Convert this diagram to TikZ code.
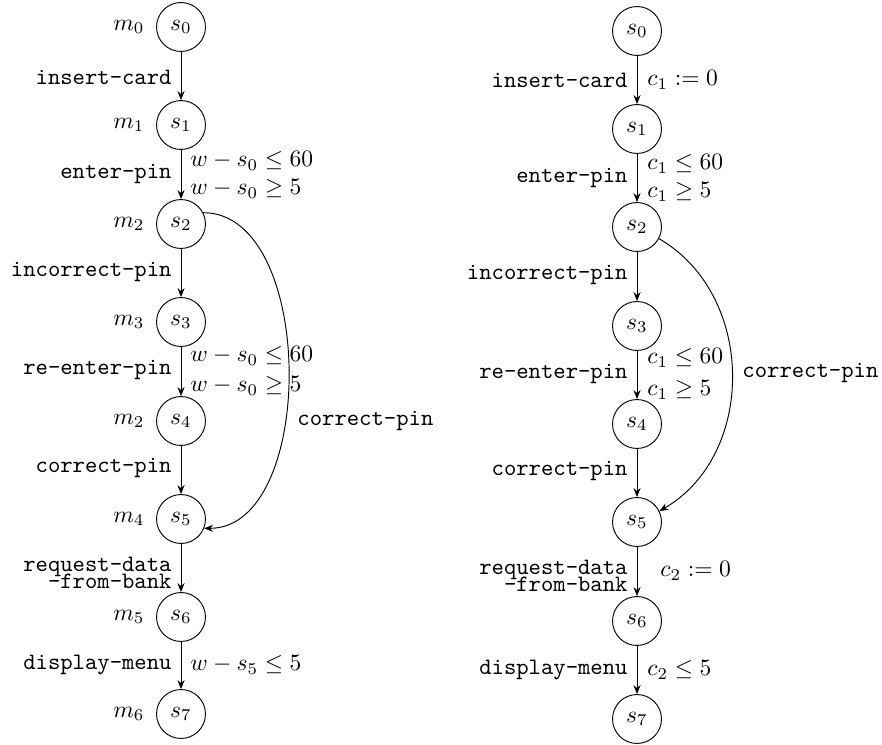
\documentclass[tikz,border=0pt]{standalone}
\usetikzlibrary{arrows.meta}
\begin{document}
\begin{tikzpicture}[x=0.425pt,y=-0.425pt,
  state/.style={draw,circle,minimum size=20.8pt,inner sep=0pt},
  mlab/.style={anchor=east,inner sep=0pt},
  act/.style={anchor=east,inner sep=0pt,font=\ttfamily},
  actb/.style={anchor=base east,inner sep=0pt,font=\ttfamily},
  grd/.style={anchor=west,inner sep=0pt},
  tr/.style={-{Stealth[length=3.8pt,width=3pt]}}]
\useasboundingbox (0,0) rectangle (882,745);
% ---------- left automaton ----------
\foreach \i/\y in {0/27,1/125,2/224,3/322,4/421,5/519,6/617,7/714}
  \node[state] (L\i) at (181,\y) {$s_{\i}$};
\foreach \i/\m/\y in {0/0/27,1/1/125,2/2/224,3/3/322,4/2/421,5/4/519,6/5/617,7/6/714}
  \node[mlab] (Lm\i) at (145,\y) {$m_{\m}$};
\foreach \a/\b in {0/1,1/2,2/3,3/4,4/5,5/6,6/7}
  \draw[tr] (L\a) -- (L\b);
\draw[tr] (L2.27) .. controls +(113,0) and +(113,0) .. (L5.-22);
\node[act] (La1) at (172,77) {insert-card};
\node[act] (La2) at (172,174) {enter-pin};
\node[act] (La3) at (172,272) {incorrect-pin};
\node[act] (La4) at (172,370) {re-enter-pin};
\node[act] (La5) at (172,468) {correct-pin};
\node[actb] (La6) at (172,571) {request-data};
\node[actb] (La6b) at (172,588) {-from-bank};
\node[act] (La7) at (172,665) {display-menu};
\node[grd] (Lg1) at (190,161) {$w-s_0\leq 60$};
\node[grd] (Lg2) at (190,189) {$w-s_0\geq 5$};
\node[grd] (Lg3) at (190,356) {$w-s_0\leq 60$};
\node[grd] (Lg4) at (190,386) {$w-s_0\geq 5$};
\node[grd] (Lg5) at (190,665) {$w-s_5\leq 5$};
\node[act,anchor=west] (Lc) at (297,421) {correct-pin};
% ---------- right automaton ----------
\foreach \i/\y in {0/31,1/129,2/227,3/326,4/424,5/522,6/621,7/719}
  \node[state] (R\i) at (637,\y) {$s_{\i}$};
\foreach \a/\b in {0/1,1/2,2/3,3/4,4/5,5/6,6/7}
  \draw[tr] (R\a) -- (R\b);
\draw[tr] (R2.-28) .. controls +(97,56) and +(97,-56) .. (R5.26);
\node[act] (Ra1) at (628,80) {insert-card};
\node[act] (Ra2) at (628,178) {enter-pin};
\node[act] (Ra3) at (628,275) {incorrect-pin};
\node[act] (Ra4) at (628,374) {re-enter-pin};
\node[act] (Ra5) at (628,471) {correct-pin};
\node[actb] (Ra6) at (628,574) {request-data};
\node[actb] (Ra6b) at (628,591) {-from-bank};
\node[act] (Ra7) at (628,670) {display-menu};
\node[grd] (Rg1) at (647,80) {$c_1:=0$};
\node[grd] (Rg2) at (647,164) {$c_1\leq 60$};
\node[grd] (Rg3) at (647,192) {$c_1\geq 5$};
\node[grd] (Rg4) at (647,358) {$c_1\leq 60$};
\node[grd] (Rg5) at (647,390) {$c_1\geq 5$};
\node[grd] (Rg6) at (660,571) {$c_2:=0$};
\node[grd] (Rg7) at (647,670) {$c_2\leq 5$};
\node[act,anchor=west] (Rc) at (742,373) {correct-pin};
\end{tikzpicture}
\end{document}
